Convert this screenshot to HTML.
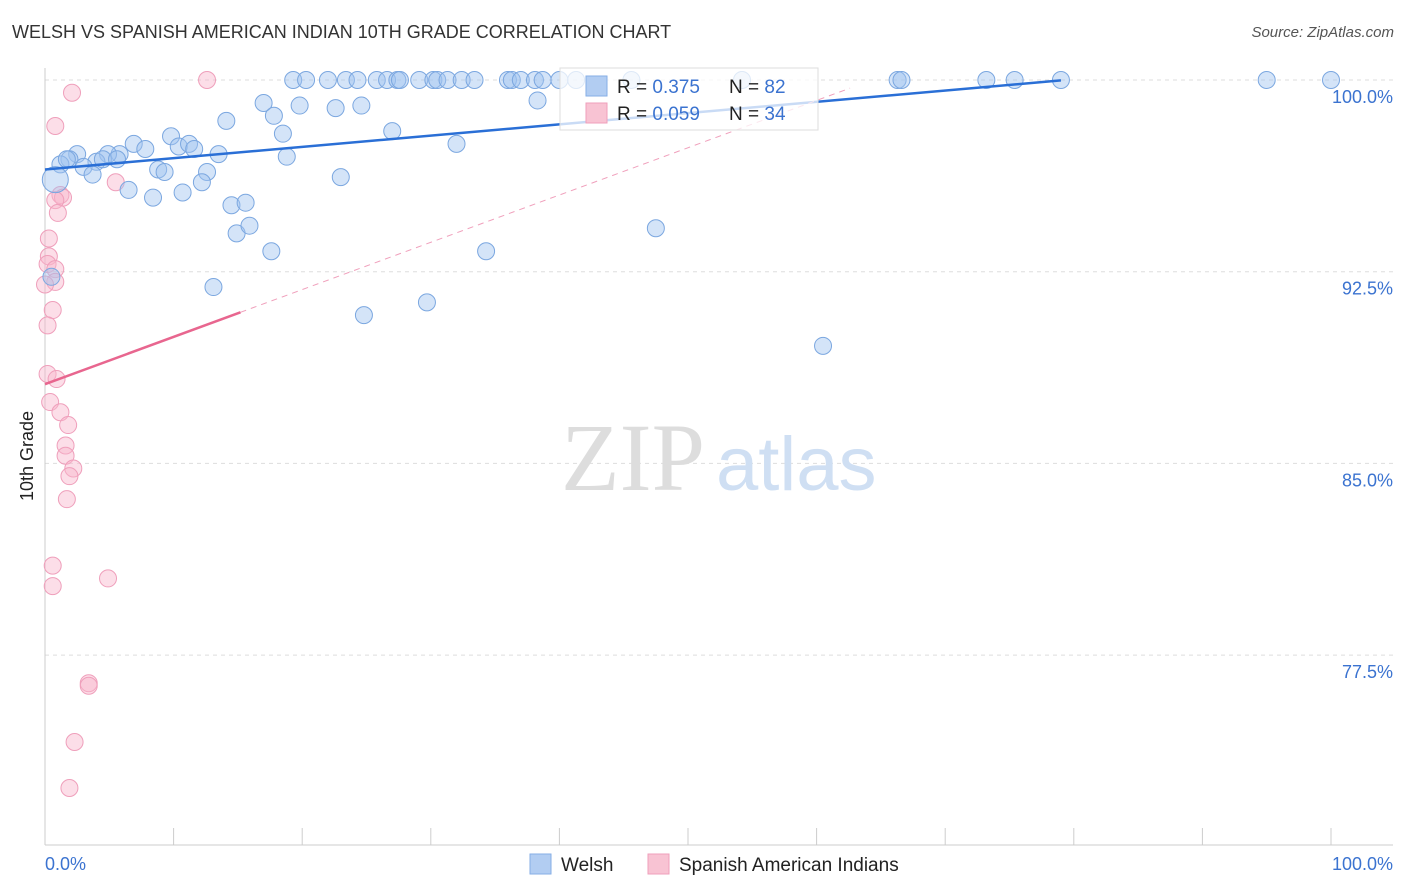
<!DOCTYPE html>
<html><head><meta charset="utf-8"><style>
body{margin:0;background:#fff;font-family:"Liberation Sans",sans-serif;}
#wrap{position:relative;width:1406px;height:892px;overflow:hidden;}
.t{position:absolute;white-space:nowrap;}
</style></head><body>
<div id="wrap">
<div class="t" style="left:12px;top:22px;font-size:18px;color:#333;">WELSH VS SPANISH AMERICAN INDIAN 10TH GRADE CORRELATION CHART</div>
<div class="t" style="right:12px;top:24px;font-size:15px;color:#555;font-style:italic;">Source: ZipAtlas.com</div>
<svg id="svg" width="1406" height="892" style="position:absolute;left:0;top:0"></svg>
</div>
<script>
const xTickLabels=["0.0%","100.0%"];
const yTicks=[100,92.5,85,77.5];
const yTickLabels=["100.0%","92.5%","85.0%","77.5%"];
const welshX=[19.3,20.3,22.0,23.4,24.3,25.8,26.6,27.4,27.6,29.1,30.2,30.5,31.3,32.4,33.4,36.0,36.3,37.0,38.1,38.7,40.0,41.3,45.6,54.2,66.3,66.6,73.2,75.4,79.0,95.0,100,
17.0,19.8,22.6,24.6,38.3,17.8,14.1,18.5,27.0,9.8,32.0,6.9,7.8,10.4,11.2,11.6,5.8,4.9,2.5,1.9,1.2,1.7,4.0,4.5,5.6,13.5,18.8,3.0,3.7,8.8,9.3,12.6,12.2,0.8,6.5,8.4,10.7,14.5,15.6,14.9,15.9,17.6,34.3,47.5,23.0,13.1,29.7,24.8,60.5,0.5];
const welshY=[100,100,100,100,100,100,100,100,100,100,100,100,100,100,100,100,100,100,100,100,100,100,100,100,100,100,100,100,100,100,100,
99.1,99.0,98.9,99.0,99.2,98.6,98.4,97.9,98.0,97.8,97.5,97.5,97.3,97.4,97.5,97.3,97.1,97.1,97.1,96.9,96.7,96.9,96.8,96.9,96.9,97.1,97.0,96.6,96.3,96.5,96.4,96.4,96.0,96.1,95.7,95.4,95.6,95.1,95.2,94.0,94.3,93.3,93.3,94.2,96.2,91.9,91.3,90.8,89.6,92.3];
const spanX=[12.6,2.1,0.8,5.5,1.2,1.4,0.8,1.0,0.3,0.3,0.2,0.8,0.8,0.6,0.2,0.2,0.9,0.4,1.2,1.8,1.6,1.6,2.2,1.9,1.7,0.6,0.6,4.9,3.4,3.4,2.3,1.9,0.0];
const spanY=[100,99.5,98.2,96.0,95.5,95.4,95.3,94.8,93.8,93.1,92.8,92.6,92.1,91.0,90.4,88.5,88.3,87.4,87.0,86.5,85.7,85.3,84.8,84.5,83.6,81.0,80.2,80.5,76.4,76.3,74.1,72.3,92.0];
const welshTrend=[96.5,0.0441];
const spanTrend=[88.1,0.185];
const NS="http://www.w3.org/2000/svg";
const svg=document.getElementById('svg');
const X=v=>45+v*12.86, Y=v=>80+(100-v)*25.56;
function mk(t,a,p){const e=document.createElementNS(NS,t);for(const k in a)e.setAttribute(k,a[k]);(p||svg).appendChild(e);return e;}
yTicks.forEach((v,i)=>{
 const l=mk('line',{x1:45,x2:1393,y1:Y(v),y2:Y(v),stroke:'#ddd','stroke-dasharray':'4,4'});
 
 
 const t=mk('text',{x:1393,y:Y(v)+23,'text-anchor':'end','font-size':18,fill:'#3b73d0','font-family':'Liberation Sans'});
 t.textContent=yTickLabels[i];
 
 
});
const ax=mk('line',{x1:45,x2:1393,y1:845,y2:845,stroke:'#ccc'});


const ay=mk('line',{x1:45,x2:45,y1:68,y2:845,stroke:'#ccc'});


for(let i=0;i<=10;i++){const tk=mk('line',{x1:X(i*10),x2:X(i*10),y1:828,y2:845,stroke:'#ccc'});

}
[[0,'start'],[100,'end']].forEach((p,i)=>{const t=mk('text',{x:i?1393:45,y:870,'text-anchor':p[1],'font-size':18,fill:'#3b73d0','font-family':'Liberation Sans'});t.textContent=xTickLabels[i];

});
const yt=mk('text',{x:0,y:0,transform:'translate(33,456) rotate(-90)','text-anchor':'middle','font-size':18,fill:'#222','font-family':'Liberation Sans'});yt.textContent='10th Grade';


const w1=mk('text',{x:633,y:490,'text-anchor':'middle','font-size':96,fill:'#ddd','font-family':'Liberation Serif'});w1.textContent='ZIP';


const w2=mk('text',{x:716,y:490,'font-size':76,fill:'#cfdff3','font-family':'Liberation Sans'});w2.textContent='atlas';


spanX.forEach((x,i)=>{const c=mk('circle',{cx:X(x),cy:Y(spanY[i]),r:8.5,fill:'rgba(248,182,203,0.45)',stroke:'#ef9fbb','stroke-width':1});

});
welshX.forEach((x,i)=>{const big=(i==64||i==81);const c=mk('circle',{cx:X(x),cy:Y(welshY[i]),r:big?13:8.5,fill:'rgba(160,196,240,0.45)',stroke:'#7ba7e0','stroke-width':1});

});
const bl=mk('line',{x1:X(0),y1:Y(welshTrend[0]),x2:X(79),y2:Y(welshTrend[0]+79*welshTrend[1]),stroke:'#2a6fd6','stroke-width':2.5});


const pd=mk('line',{x1:X(15.2),y1:Y(spanTrend[0]+15.2*spanTrend[1]),x2:X(62.6),y2:Y(spanTrend[0]+62.6*spanTrend[1]),stroke:'#f0a0bc','stroke-width':1,'stroke-dasharray':'6,5'});


const pl=mk('line',{x1:X(0),y1:Y(spanTrend[0]),x2:X(15.2),y2:Y(spanTrend[0]+15.2*spanTrend[1]),stroke:'#e8668f','stroke-width':2.5});


const lg=mk('g',{});


mk('rect',{x:560,y:68,width:258,height:62,fill:'rgba(255,255,255,0.75)',stroke:'#ddd'},lg);
mk('rect',{x:586,y:76,width:21,height:20,fill:'#b2cdf2',stroke:'#86aee6'},lg);
mk('rect',{x:586,y:103,width:21,height:20,fill:'#f8c3d3',stroke:'#ef9fbb'},lg);
[['R = ',' 0.375','N = ',' 82',93],['R = ',' 0.059','N = ',' 34',120]].forEach(r=>{
 const t=mk('text',{x:617,y:r[4],'font-size':19,'font-family':'Liberation Sans',fill:'#222'},lg);
 t.innerHTML=`${r[0]}<tspan fill="#3b73d0">${r[1]}</tspan><tspan x="729">${r[2]}</tspan><tspan fill="#3b73d0">${r[3]}</tspan>`;
});
const bl2=mk('g',{});


mk('rect',{x:530,y:854,width:21,height:20,fill:'#b2cdf2',stroke:'#86aee6'},bl2);
mk('rect',{x:648,y:854,width:21,height:20,fill:'#f8c3d3',stroke:'#ef9fbb'},bl2);
const a=mk('text',{x:561,y:871,'font-size':19,'font-family':'Liberation Sans',fill:'#222'},bl2);a.textContent='Welsh';
const b=mk('text',{x:679,y:871,'font-size':19,'font-family':'Liberation Sans',fill:'#222'},bl2);b.textContent='Spanish American Indians';
</script>
</body></html>
